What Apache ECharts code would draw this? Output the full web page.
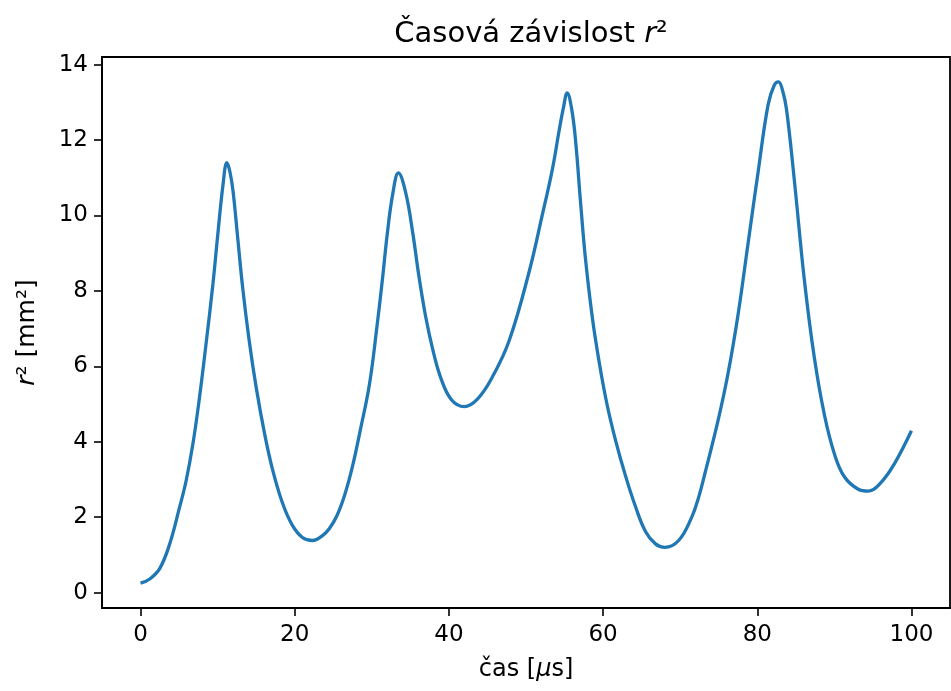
<!DOCTYPE html>
<html>
<head>
<meta charset="utf-8">
<script src="https://cdn.jsdelivr.net/npm/echarts@6/dist/echarts.min.js"></script>
<style>
  html, body { margin: 0; padding: 0; background: #fff; }
  #chart { width: 951px; height: 691px; }
</style>
</head>
<body>
<div id="chart"></div>
<script>
// time [µs]
const casUs = [
  0, 1.2, 2.5, 3.8, 5.05, 5.9, 6.8, 7.6, 8.5, 9.4, 10.0, 10.7, 11.2, 11.6, 12.0, 12.6,
  13.25, 14.1, 15.0, 16.1, 17.1, 18.4, 19.7, 21.0, 22.3, 23.6, 24.5, 25.5, 26.5, 27.5,
  28.5, 29.7, 30.7, 31.4, 32.0, 32.7, 33.45, 34.4, 35.3, 36.1, 37.0, 37.9, 38.9, 40.3,
  42.0, 43.7, 45.6, 47.8, 50.4, 52.1, 53.4, 54.3, 54.85, 55.35, 55.9, 56.4, 57.1, 57.7,
  58.6, 59.5, 60.5, 61.6, 62.9, 64.2, 65.5, 66.8, 68.0, 69.8, 71.5, 72.4, 73.2, 74.9,
  76.2, 77.5, 78.8, 80.1, 81.4, 82.2, 82.75, 83.3, 83.8, 84.8, 86.1, 87.4, 88.7, 90.0,
  91.3, 93.1, 94.4, 96.1, 97.8, 100
];
// r^2 [mm^2]
const r2mm2 = [
  0.25, 0.36, 0.64, 1.30, 2.25, 2.95, 3.95, 5.10, 6.60, 8.20, 9.45, 10.82, 11.40, 11.15, 10.64, 9.41,
  8.08, 6.67, 5.44, 4.20, 3.28, 2.38, 1.78, 1.46, 1.38, 1.51, 1.70, 2.05, 2.60, 3.35,
  4.30, 5.53, 7.11, 8.35, 9.50, 10.55, 11.13, 10.60, 9.55, 8.40, 7.30, 6.45, 5.72, 5.12,
  4.93, 5.13, 5.70, 6.67, 8.50, 10.00, 11.20, 12.25, 12.85, 13.25, 12.85, 12.05, 10.29, 8.88,
  7.30, 6.10, 5.00, 4.05, 3.10, 2.28, 1.62, 1.29, 1.20, 1.38, 2.00, 2.53, 3.15, 4.55,
  5.80, 7.36, 9.25, 11.14, 12.93, 13.45, 13.54, 13.30, 12.80, 10.95, 8.30, 6.23, 4.72, 3.68,
  3.07, 2.74, 2.69, 2.93, 3.42, 4.29
];
const xTicks = [0, 20, 40, 60, 80, 100];
const yTicks = [0, 2, 4, 6, 8, 10, 12, 14];

const FONT = '"DejaVu Sans", sans-serif';
const chart = echarts.init(document.getElementById('chart'), null, { renderer: 'canvas' });

chart.setOption({
  backgroundColor: '#ffffff',
  animation: false,
  title: {
    text: '{n|Časová závislost }{i|r}{n|²}',
    left: 526,
    textAlign: 'center',
    top: 15,
    textStyle: {
      fontWeight: 'normal',
      rich: {
        n: { fontFamily: FONT, fontSize: 29, fontWeight: 'normal', color: '#000' },
        i: { fontFamily: FONT, fontSize: 29, fontWeight: 'normal', fontStyle: 'italic', color: '#000' }
      }
    }
  },
  grid: {
    left: 102, right: 1, top: 57, bottom: 83,
    show: true, borderColor: '#000', borderWidth: 1.8, backgroundColor: 'transparent'
  },
  xAxis: {
    type: 'value',
    min: -5, max: 105,
    name: '{n|čas [}{i|μ}{n|s]}',
    nameLocation: 'middle',
    nameGap: 50,
    nameTextStyle: {
      rich: {
        n: { fontFamily: FONT, fontSize: 24, color: '#000' },
        i: { fontFamily: FONT, fontSize: 24, fontStyle: 'italic', color: '#000' }
      }
    },
    axisLine: { show: true, onZero: false, lineStyle: { color: '#000', width: 1.8 } },
    axisTick: { show: true, length: 8, lineStyle: { color: '#000', width: 1.6 }, customValues: xTicks },
    axisLabel: { margin: 16, fontFamily: FONT, fontSize: 23, color: '#000', customValues: xTicks },
    splitLine: { show: false }
  },
  yAxis: {
    type: 'value',
    min: -0.41, max: 14.2,
    name: '{i|r}{n|² [mm²]}',
    nameLocation: 'middle',
    nameRotate: 90,
    nameGap: 62,
    nameTextStyle: {
      rich: {
        n: { fontFamily: FONT, fontSize: 25, color: '#000' },
        i: { fontFamily: FONT, fontSize: 25, fontStyle: 'italic', color: '#000' }
      }
    },
    axisLine: { show: true, onZero: false, lineStyle: { color: '#000', width: 1.8 } },
    axisTick: { show: true, length: 8, lineStyle: { color: '#000', width: 1.6 }, customValues: yTicks },
    axisLabel: { margin: 14, fontFamily: FONT, fontSize: 23, color: '#000', customValues: yTicks },
    splitLine: { show: false }
  },
  series: [{
    type: 'line',
    data: casUs.map((t, i) => [t, r2mm2[i]]),
    showSymbol: false,
    smooth: 0.4,
    lineStyle: { color: '#1f77b4', width: 3.3 },
    clip: false
  }]
});
</script>
</body>
</html>
